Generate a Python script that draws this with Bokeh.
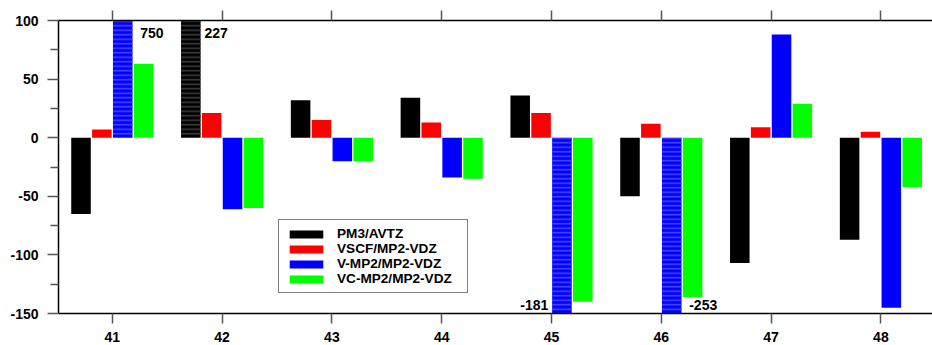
from bokeh.plotting import figure
from bokeh.models import (ColumnDataSource, Range1d, FixedTicker, LinearAxis,
                          Legend, LegendItem, PrintfTickFormatter)
from bokeh.core.properties import value
from bokeh.embed import file_html
from bokeh.resources import INLINE

# Frequency shifts per vibrational mode and method
modes = [41, 42, 43, 44, 45, 46, 47, 48]
pm3_avtz = [-65, 227, 32, 34, 36, -50, -107, -87]
vscf_mp2_vdz = [7, 21, 15, 13, 21, 12, 9, 5]
vmp2_mp2_vdz = [750, -61, -20, -34, -181, -253, 88, -145]
vcmp2_mp2_vdz = [63, -60, -20, -35, -140, -136, 29, -42]
series_names = ["PM3/AVTZ", "VSCF/MP2-VDZ", "V-MP2/MP2-VDZ", "VC-MP2/MP2-VDZ"]
y_ticks = [-150, -100, -50, 0, 50, 100]
y_minor_ticks = [-125, -75, -25, 25, 75]

series_values = [pm3_avtz, vscf_mp2_vdz, vmp2_mp2_vdz, vcmp2_mp2_vdz]
colors = ["#000000", "#ff0000", "#0000ff", "#00ff00"]
hatch_colors = ["#3c3c3c", "#ff5555", "#4646ff", "#55ff55"]
offsets = [-0.285, -0.095, 0.095, 0.285]
bar_w = 0.178

y_lo, y_hi = -150, 100
FONT = "Liberation Sans"

p = figure(width=932, height=345, output_backend="svg", toolbar_location=None,
           x_range=Range1d(40.51, 48.47), y_range=Range1d(y_lo, y_hi),
           x_axis_location=None, y_axis_location=None,
           min_border_left=58, min_border_right=0, min_border_top=20,
           min_border_bottom=32)
p.outline_line_color = None
p.xgrid.visible = False
p.ygrid.visible = False
p.background_fill_color = "white"
p.border_fill_color = "white"

# value labels for bars running off the axis range; side of the bar they sit on
label_side = {(2, 45): "left"}
label_gap = {(2, 41): 0.07, (0, 42): 0.035, (2, 45): 0.035, (2, 46): 0.07}

legend_items = []
lab_x, lab_y, lab_txt, lab_align = [], [], [], []
for i, (name, vals) in enumerate(zip(series_names, series_values)):
    xs = [m + offsets[i] for m in modes]
    inside = [k for k, v in enumerate(vals) if y_lo <= v <= y_hi]
    outside = [k for k, v in enumerate(vals) if not (y_lo <= v <= y_hi)]
    src_in = ColumnDataSource(dict(x=[xs[k] for k in inside], top=[vals[k] for k in inside]))
    r = p.vbar(x="x", top="top", bottom=0, width=bar_w, source=src_in,
               fill_color=colors[i], line_color=None)
    legend_items.append(LegendItem(label=name, renderers=[r]))
    if outside:
        src_out = ColumnDataSource(dict(x=[xs[k] for k in outside],
                                        top=[vals[k] for k in outside]))
        p.vbar(x="x", top="top", bottom=0, width=bar_w, source=src_out,
               fill_color=colors[i], line_color=None,
               hatch_pattern="horizontal_line", hatch_color=hatch_colors[i],
               hatch_scale=4.5, hatch_weight=1.6)
        for k in outside:
            v = vals[k]
            side = label_side.get((i, modes[k]), "right")
            gap = label_gap.get((i, modes[k]), 0.05)
            if side == "right":
                lab_x.append(xs[k] + bar_w / 2 + gap)
                lab_align.append("left")
            else:
                lab_x.append(xs[k] - bar_w / 2 - gap)
                lab_align.append("right")
            lab_y.append(y_hi - 11 if v > 0 else y_lo + 7.5)
            lab_txt.append(str(v))

lab_src = ColumnDataSource(dict(x=lab_x, y=lab_y, text=lab_txt, align=lab_align))
p.text(x="x", y="y", text="text", source=lab_src, text_align="align",
       text_baseline="middle", text_font=value(FONT), text_font_style="bold",
       text_font_size="14px", text_color="black")

# axes
bottom = LinearAxis(ticker=FixedTicker(ticks=modes))
top = LinearAxis(ticker=FixedTicker(ticks=modes))
left = LinearAxis(ticker=FixedTicker(ticks=y_ticks, minor_ticks=y_minor_ticks),
                  formatter=PrintfTickFormatter(format="%d"))
for ax in (bottom, top, left):
    ax.axis_line_color = "black"
    ax.axis_line_width = 1.5
    ax.major_tick_line_color = "#555555"
    ax.major_tick_line_width = 1.5
    ax.major_tick_in = 0
    ax.major_tick_out = 10
    ax.minor_tick_in = 0
    ax.major_label_text_font = FONT
    ax.major_label_text_font_style = "bold"
    ax.major_label_text_font_size = "14px"
    ax.major_label_text_color = "black"
bottom.minor_tick_line_color = None
top.minor_tick_line_color = None
top.major_label_text_font_size = "0px"
top.major_label_text_color = None
left.major_tick_out = 11
left.minor_tick_out = 8
left.minor_tick_line_color = "#555555"
left.minor_tick_line_width = 1.5
bottom.major_label_standoff = 8
left.major_label_standoff = 9

p.add_layout(bottom, "below")
p.add_layout(top, "above")
p.add_layout(left, "left")

legend = Legend(items=legend_items, location=(220, 20), orientation="vertical",
                glyph_width=42, glyph_height=10, label_height=15, spacing=0,
                padding=6, margin=0, label_standoff=10, label_width=124,
                label_text_font=FONT, label_text_font_style="bold",
                label_text_font_size="13.6px", label_text_color="black",
                border_line_color="black", border_line_width=1.2,
                background_fill_color="white", background_fill_alpha=1.0)
p.add_layout(legend, "center")

open("out.html", "w").write(file_html(p, INLINE))
